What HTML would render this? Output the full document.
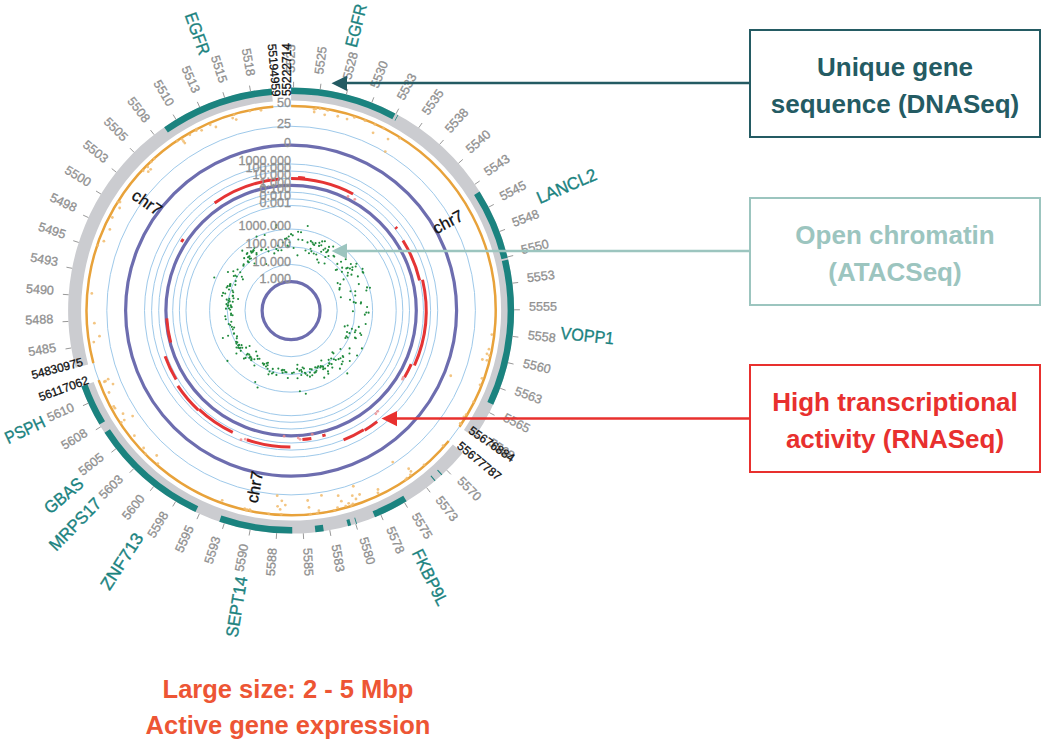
<!DOCTYPE html>
<html><head><meta charset="utf-8">
<style>
html,body{margin:0;padding:0;background:#fff;}
body{width:1041px;height:742px;overflow:hidden;position:relative;font-family:"Liberation Sans",sans-serif;}
svg{position:absolute;left:0;top:0;}
.tk{font-size:12.6px;fill:#909090;stroke:#909090;stroke-width:0.3px;}
.bl{font-size:11.9px;fill:#111;stroke:#111;stroke-width:0.3px;}
.gn{font-size:17.3px;fill:#1b837f;stroke:#1b837f;stroke-width:0.35px;}
.chr{font-size:16.5px;fill:#111;stroke:#111;stroke-width:0.3px;}
.sc{font-size:12.6px;fill:#909090;stroke:#909090;stroke-width:0.3px;}
.box{position:absolute;box-sizing:border-box;border:2px solid;display:flex;align-items:center;justify-content:center;text-align:center;font-weight:bold;font-size:26px;line-height:36.8px;padding-top:6px;}
.bottom{position:absolute;left:88px;width:400px;text-align:center;font-weight:bold;font-size:25.5px;line-height:36.8px;color:#ed5534;top:670.5px;}
</style></head><body>
<svg width="1041" height="742" viewBox="0 0 1041 742">
<circle cx="291.1" cy="310.6" r="184.3" fill="none" stroke="#9ec9ea" stroke-width="1"/>
<circle cx="291.1" cy="310.6" r="146.6" fill="none" stroke="#9ec9ea" stroke-width="1"/>
<circle cx="291.1" cy="310.6" r="139.5" fill="none" stroke="#9ec9ea" stroke-width="1"/>
<circle cx="291.1" cy="310.6" r="132.4" fill="none" stroke="#9ec9ea" stroke-width="1"/>
<circle cx="291.1" cy="310.6" r="118.4" fill="none" stroke="#9ec9ea" stroke-width="1"/>
<circle cx="291.1" cy="310.6" r="111.7" fill="none" stroke="#9ec9ea" stroke-width="1"/>
<circle cx="291.1" cy="310.6" r="105.1" fill="none" stroke="#9ec9ea" stroke-width="1"/>
<circle cx="291.1" cy="310.6" r="81.5" fill="none" stroke="#9ec9ea" stroke-width="1"/>
<circle cx="291.1" cy="310.6" r="63.8" fill="none" stroke="#9ec9ea" stroke-width="1"/>
<circle cx="291.1" cy="310.6" r="46.1" fill="none" stroke="#9ec9ea" stroke-width="1"/>
<circle cx="291.1" cy="310.6" r="204.65" fill="none" stroke="#9ec9ea" stroke-width="1"/>
<path d="M291.1 87.6A223 223 0 0 1 474.64 437.26L463.94 429.88A210 210 0 0 0 291.1 100.6Z" fill="#cbccd0"/>
<path d="M462.9 452.78A223 223 0 0 1 81.37 386.38L93.6 381.96A210 210 0 0 0 452.88 444.49Z" fill="#cbccd0"/>
<path d="M75.56 367.81A223 223 0 0 1 271.66 88.45L272.8 101.4A210 210 0 0 0 88.13 364.48Z" fill="#cbccd0"/>
<path d="M164.16 127.25A223 223 0 0 1 271.66 88.45L272.23 94.92A216.5 216.5 0 0 0 167.86 132.6Z" fill="#1b837f"/>
<path d="M291.1 87.6A223 223 0 0 1 395.36 113.48L392.33 119.22A216.5 216.5 0 0 0 291.1 94.1Z" fill="#1b837f"/>
<path d="M397.7 114.73A223 223 0 0 1 398.36 115.09L395.23 120.79A216.5 216.5 0 0 0 394.6 120.44Z" fill="#1b837f"/>
<path d="M479.59 191.43A223 223 0 0 1 507.76 257.78L501.44 259.32A216.5 216.5 0 0 0 474.09 194.9Z" fill="#1b837f"/>
<path d="M508.15 259.44A223 223 0 0 1 493.26 404.74L487.36 401.99A216.5 216.5 0 0 0 501.83 260.93Z" fill="#1b837f"/>
<path d="M442.34 474.48A223 223 0 0 1 441.55 475.2L437.17 470.4A216.5 216.5 0 0 0 437.93 469.7Z" fill="#1b837f"/>
<path d="M435.55 480.49A223 223 0 0 1 434.73 481.18L430.54 476.21A216.5 216.5 0 0 0 431.34 475.54Z" fill="#1b837f"/>
<path d="M406.65 501.33A223 223 0 0 1 375 517.22L372.55 511.19A216.5 216.5 0 0 0 403.28 495.77Z" fill="#1b837f"/>
<path d="M357 523.64A223 223 0 0 1 356.18 523.89L354.28 517.68A216.5 216.5 0 0 0 355.08 517.43Z" fill="#1b837f"/>
<path d="M351.16 525.36A223 223 0 0 1 348.07 526.2L346.41 519.92A216.5 216.5 0 0 0 349.41 519.1Z" fill="#1b837f"/>
<path d="M323.83 531.19A223 223 0 0 1 315.45 532.27L314.74 525.81A216.5 216.5 0 0 0 322.87 524.76Z" fill="#1b837f"/>
<path d="M292.27 533.6A223 223 0 0 1 219.24 521.7L221.33 515.55A216.5 216.5 0 0 0 292.23 527.1Z" fill="#1b837f"/>
<path d="M195.45 512.04A223 223 0 0 1 104.5 432.71L109.94 429.15A216.5 216.5 0 0 0 198.24 506.17Z" fill="#1b837f"/>
<path d="M99.45 424.62A223 223 0 0 1 81.37 386.38L87.48 384.17A216.5 216.5 0 0 0 105.04 421.3Z" fill="#1b837f"/>
<path d="M291.1 106A204.6 204.6 0 0 1 459.49 426.81" fill="none" stroke="#e8a23a" stroke-width="2.5"/>
<path d="M448.72 441.05A204.6 204.6 0 0 1 98.68 380.13" fill="none" stroke="#e8a23a" stroke-width="2.5"/>
<path d="M93.35 363.09A204.6 204.6 0 0 1 273.27 106.78" fill="none" stroke="#e8a23a" stroke-width="2.5"/>
<circle cx="473.57" cy="401.89" r="1.4" fill="#f1bb6c" fill-opacity="0.85"/>
<circle cx="443.04" cy="445.73" r="1.4" fill="#f1bb6c" fill-opacity="0.85"/>
<circle cx="337.75" cy="116.26" r="1.4" fill="#f1bb6c" fill-opacity="0.85"/>
<circle cx="365.08" cy="120.64" r="1.4" fill="#f1bb6c" fill-opacity="0.85"/>
<circle cx="143.65" cy="447.98" r="1.4" fill="#f1bb6c" fill-opacity="0.85"/>
<circle cx="260.99" cy="110.26" r="1.4" fill="#f1bb6c" fill-opacity="0.85"/>
<circle cx="486.94" cy="360.37" r="1.4" fill="#f1bb6c" fill-opacity="0.85"/>
<circle cx="156.7" cy="455.52" r="1.4" fill="#f1bb6c" fill-opacity="0.85"/>
<circle cx="196.44" cy="129.24" r="1.4" fill="#f1bb6c" fill-opacity="0.85"/>
<circle cx="388.03" cy="139.05" r="1.4" fill="#f1bb6c" fill-opacity="0.85"/>
<circle cx="147.72" cy="166.97" r="1.4" fill="#f1bb6c" fill-opacity="0.85"/>
<circle cx="277.2" cy="495.63" r="1.4" fill="#f1bb6c" fill-opacity="0.85"/>
<circle cx="150.69" cy="169.35" r="1.4" fill="#f1bb6c" fill-opacity="0.85"/>
<circle cx="373.07" cy="132.84" r="1.4" fill="#f1bb6c" fill-opacity="0.85"/>
<circle cx="321.44" cy="495.41" r="1.4" fill="#f1bb6c" fill-opacity="0.85"/>
<circle cx="486.93" cy="353.85" r="1.4" fill="#f1bb6c" fill-opacity="0.85"/>
<circle cx="319.92" cy="108.66" r="1.4" fill="#f1bb6c" fill-opacity="0.85"/>
<circle cx="189.83" cy="134.82" r="1.4" fill="#f1bb6c" fill-opacity="0.85"/>
<circle cx="352.3" cy="495.72" r="1.4" fill="#f1bb6c" fill-opacity="0.85"/>
<circle cx="109.02" cy="392.5" r="1.4" fill="#f1bb6c" fill-opacity="0.85"/>
<circle cx="310.39" cy="514.2" r="1.4" fill="#f1bb6c" fill-opacity="0.85"/>
<circle cx="247.12" cy="509.77" r="1.4" fill="#f1bb6c" fill-opacity="0.85"/>
<circle cx="232.68" cy="118.12" r="1.4" fill="#f1bb6c" fill-opacity="0.85"/>
<circle cx="345.71" cy="506.1" r="1.4" fill="#f1bb6c" fill-opacity="0.85"/>
<circle cx="410.96" cy="471.43" r="1.4" fill="#f1bb6c" fill-opacity="0.85"/>
<circle cx="374.92" cy="124.47" r="1.4" fill="#f1bb6c" fill-opacity="0.85"/>
<circle cx="244.7" cy="508.68" r="1.4" fill="#f1bb6c" fill-opacity="0.85"/>
<circle cx="157.85" cy="463.54" r="1.4" fill="#f1bb6c" fill-opacity="0.85"/>
<circle cx="236.22" cy="119.59" r="1.4" fill="#f1bb6c" fill-opacity="0.85"/>
<circle cx="334.45" cy="510.35" r="1.4" fill="#f1bb6c" fill-opacity="0.85"/>
<circle cx="104.39" cy="381.75" r="1.4" fill="#f1bb6c" fill-opacity="0.85"/>
<circle cx="324.7" cy="114.78" r="1.4" fill="#f1bb6c" fill-opacity="0.85"/>
<circle cx="249.77" cy="509.59" r="1.4" fill="#f1bb6c" fill-opacity="0.85"/>
<circle cx="94.38" cy="323.13" r="1.4" fill="#f1bb6c" fill-opacity="0.85"/>
<circle cx="327.97" cy="110.36" r="1.4" fill="#f1bb6c" fill-opacity="0.85"/>
<circle cx="355.97" cy="499.02" r="1.4" fill="#f1bb6c" fill-opacity="0.85"/>
<circle cx="234.17" cy="114.63" r="1.4" fill="#f1bb6c" fill-opacity="0.85"/>
<circle cx="463.89" cy="416.84" r="1.4" fill="#f1bb6c" fill-opacity="0.85"/>
<circle cx="317.37" cy="513.18" r="1.4" fill="#f1bb6c" fill-opacity="0.85"/>
<circle cx="182.09" cy="139.36" r="1.4" fill="#f1bb6c" fill-opacity="0.85"/>
<circle cx="318.89" cy="510.65" r="1.4" fill="#f1bb6c" fill-opacity="0.85"/>
<circle cx="337.54" cy="507.62" r="1.4" fill="#f1bb6c" fill-opacity="0.85"/>
<circle cx="93.79" cy="342.11" r="1.4" fill="#f1bb6c" fill-opacity="0.85"/>
<circle cx="103.87" cy="241.19" r="1.4" fill="#f1bb6c" fill-opacity="0.85"/>
<circle cx="121.31" cy="422.48" r="1.4" fill="#f1bb6c" fill-opacity="0.85"/>
<circle cx="326.79" cy="109.78" r="1.4" fill="#f1bb6c" fill-opacity="0.85"/>
<circle cx="91.8" cy="293.43" r="1.4" fill="#f1bb6c" fill-opacity="0.85"/>
<circle cx="184.84" cy="143.12" r="1.4" fill="#f1bb6c" fill-opacity="0.85"/>
<circle cx="123.02" cy="413.64" r="1.4" fill="#f1bb6c" fill-opacity="0.85"/>
<circle cx="250.56" cy="510.64" r="1.4" fill="#f1bb6c" fill-opacity="0.85"/>
<circle cx="148.3" cy="171.68" r="1.4" fill="#f1bb6c" fill-opacity="0.85"/>
<circle cx="222.19" cy="500.35" r="1.4" fill="#f1bb6c" fill-opacity="0.85"/>
<circle cx="154.27" cy="158.84" r="1.4" fill="#f1bb6c" fill-opacity="0.85"/>
<circle cx="281.22" cy="514.28" r="1.4" fill="#f1bb6c" fill-opacity="0.85"/>
<circle cx="359.59" cy="494.48" r="1.4" fill="#f1bb6c" fill-opacity="0.85"/>
<circle cx="351.3" cy="505.62" r="1.4" fill="#f1bb6c" fill-opacity="0.85"/>
<circle cx="281.83" cy="500.82" r="1.4" fill="#f1bb6c" fill-opacity="0.85"/>
<circle cx="196.24" cy="130.66" r="1.4" fill="#f1bb6c" fill-opacity="0.85"/>
<circle cx="120" cy="202.01" r="1.4" fill="#f1bb6c" fill-opacity="0.85"/>
<circle cx="113.73" cy="406.44" r="1.4" fill="#f1bb6c" fill-opacity="0.85"/>
<circle cx="114.97" cy="408.19" r="1.4" fill="#f1bb6c" fill-opacity="0.85"/>
<circle cx="249.84" cy="111.09" r="1.4" fill="#f1bb6c" fill-opacity="0.85"/>
<circle cx="408.66" cy="468.74" r="1.4" fill="#f1bb6c" fill-opacity="0.85"/>
<circle cx="406.89" cy="478.26" r="1.4" fill="#f1bb6c" fill-opacity="0.85"/>
<circle cx="315.93" cy="108.77" r="1.4" fill="#f1bb6c" fill-opacity="0.85"/>
<circle cx="268.75" cy="513.8" r="1.4" fill="#f1bb6c" fill-opacity="0.85"/>
<circle cx="177.32" cy="141.12" r="1.4" fill="#f1bb6c" fill-opacity="0.85"/>
<circle cx="392.72" cy="462.07" r="1.4" fill="#f1bb6c" fill-opacity="0.85"/>
<circle cx="399.61" cy="138.32" r="1.4" fill="#f1bb6c" fill-opacity="0.85"/>
<circle cx="491.84" cy="334.58" r="1.4" fill="#f1bb6c" fill-opacity="0.85"/>
<circle cx="97.72" cy="245.57" r="1.4" fill="#f1bb6c" fill-opacity="0.85"/>
<circle cx="348.69" cy="503.28" r="1.4" fill="#f1bb6c" fill-opacity="0.85"/>
<circle cx="201.63" cy="130.35" r="1.4" fill="#f1bb6c" fill-opacity="0.85"/>
<circle cx="215.9" cy="127.02" r="1.4" fill="#f1bb6c" fill-opacity="0.85"/>
<circle cx="354.39" cy="117.4" r="1.4" fill="#f1bb6c" fill-opacity="0.85"/>
<circle cx="314.17" cy="109.29" r="1.4" fill="#f1bb6c" fill-opacity="0.85"/>
<circle cx="314.19" cy="112.1" r="1.4" fill="#f1bb6c" fill-opacity="0.85"/>
<circle cx="210.21" cy="124.83" r="1.4" fill="#f1bb6c" fill-opacity="0.85"/>
<circle cx="132.62" cy="416.12" r="1.4" fill="#f1bb6c" fill-opacity="0.85"/>
<circle cx="113" cy="384.05" r="1.4" fill="#f1bb6c" fill-opacity="0.85"/>
<circle cx="99.51" cy="336.22" r="1.4" fill="#f1bb6c" fill-opacity="0.85"/>
<circle cx="151.23" cy="161.92" r="1.4" fill="#f1bb6c" fill-opacity="0.85"/>
<circle cx="143.18" cy="170.75" r="1.4" fill="#f1bb6c" fill-opacity="0.85"/>
<circle cx="347.04" cy="119.11" r="1.4" fill="#f1bb6c" fill-opacity="0.85"/>
<circle cx="353.32" cy="486.27" r="1.4" fill="#f1bb6c" fill-opacity="0.85"/>
<circle cx="480.06" cy="384.79" r="1.4" fill="#f1bb6c" fill-opacity="0.85"/>
<circle cx="466.08" cy="414.58" r="1.4" fill="#f1bb6c" fill-opacity="0.85"/>
<circle cx="285.31" cy="505.06" r="1.4" fill="#f1bb6c" fill-opacity="0.85"/>
<circle cx="109.85" cy="229.39" r="1.4" fill="#f1bb6c" fill-opacity="0.85"/>
<circle cx="481.97" cy="378.3" r="1.4" fill="#f1bb6c" fill-opacity="0.85"/>
<circle cx="124.28" cy="420.12" r="1.4" fill="#f1bb6c" fill-opacity="0.85"/>
<circle cx="377.91" cy="492.84" r="1.4" fill="#f1bb6c" fill-opacity="0.85"/>
<circle cx="183.58" cy="141.44" r="1.4" fill="#f1bb6c" fill-opacity="0.85"/>
<circle cx="112.34" cy="217.51" r="1.4" fill="#f1bb6c" fill-opacity="0.85"/>
<circle cx="385.27" cy="151.58" r="1.4" fill="#f1bb6c" fill-opacity="0.85"/>
<circle cx="119.65" cy="208.01" r="1.4" fill="#f1bb6c" fill-opacity="0.85"/>
<circle cx="145.46" cy="454.01" r="1.4" fill="#f1bb6c" fill-opacity="0.85"/>
<circle cx="246.22" cy="510.2" r="1.4" fill="#f1bb6c" fill-opacity="0.85"/>
<circle cx="338.2" cy="495.68" r="1.4" fill="#f1bb6c" fill-opacity="0.85"/>
<circle cx="134.4" cy="435.72" r="1.4" fill="#f1bb6c" fill-opacity="0.85"/>
<circle cx="108.15" cy="379.22" r="1.4" fill="#f1bb6c" fill-opacity="0.85"/>
<circle cx="105.44" cy="381.18" r="1.4" fill="#f1bb6c" fill-opacity="0.85"/>
<circle cx="489.29" cy="355.61" r="1.4" fill="#f1bb6c" fill-opacity="0.85"/>
<circle cx="450.75" cy="375.76" r="1.4" fill="#f1bb6c" fill-opacity="0.85"/>
<circle cx="341.35" cy="501.19" r="1.4" fill="#f1bb6c" fill-opacity="0.85"/>
<circle cx="424.05" cy="464.97" r="1.4" fill="#f1bb6c" fill-opacity="0.85"/>
<circle cx="383.5" cy="128.15" r="1.4" fill="#f1bb6c" fill-opacity="0.85"/>
<circle cx="280.16" cy="509.45" r="1.4" fill="#f1bb6c" fill-opacity="0.85"/>
<circle cx="307.68" cy="500.52" r="1.4" fill="#f1bb6c" fill-opacity="0.85"/>
<circle cx="405.48" cy="479.86" r="1.4" fill="#f1bb6c" fill-opacity="0.85"/>
<circle cx="460.88" cy="424.37" r="1.4" fill="#f1bb6c" fill-opacity="0.85"/>
<circle cx="117.91" cy="202.04" r="1.4" fill="#f1bb6c" fill-opacity="0.85"/>
<circle cx="482.38" cy="359.5" r="1.4" fill="#f1bb6c" fill-opacity="0.85"/>
<circle cx="377.98" cy="489.51" r="1.4" fill="#f1bb6c" fill-opacity="0.85"/>
<circle cx="488.99" cy="349.17" r="1.4" fill="#f1bb6c" fill-opacity="0.85"/>
<circle cx="277.6" cy="506.28" r="1.4" fill="#f1bb6c" fill-opacity="0.85"/>
<circle cx="410.38" cy="474.87" r="1.4" fill="#f1bb6c" fill-opacity="0.85"/>
<circle cx="352.79" cy="504.02" r="1.4" fill="#f1bb6c" fill-opacity="0.85"/>
<circle cx="308.99" cy="507.41" r="1.4" fill="#f1bb6c" fill-opacity="0.85"/>
<circle cx="460.18" cy="423.44" r="1.4" fill="#f1bb6c" fill-opacity="0.85"/>
<circle cx="291.1" cy="310.6" r="165.5" fill="none" stroke="#6d6daf" stroke-width="3.2"/>
<circle cx="291.1" cy="310.6" r="125.2" fill="none" stroke="#6d6daf" stroke-width="3.2"/>
<circle cx="291.1" cy="310.6" r="29.0" fill="none" stroke="#6d6daf" stroke-width="3.2"/>
<path d="M214.63 203A132 132 0 0 1 279.6 179.1" fill="none" stroke="#e53434" stroke-width="3"/>
<path d="M291.1 178.6A132 132 0 0 1 353.07 194.05" fill="none" stroke="#e53434" stroke-width="3"/>
<path d="M298.07 177.58A133.2 133.2 0 0 1 305.02 178.13" fill="none" stroke="#e53434" stroke-width="3"/>
<path d="M181.36 242.03A129.4 129.4 0 0 1 183.32 238.99" fill="none" stroke="#e53434" stroke-width="3"/>
<path d="M395.52 226.94A133.8 133.8 0 0 1 396.97 228.78" fill="none" stroke="#e53434" stroke-width="3"/>
<path d="M402.92 240.46A132 132 0 0 1 419.61 280.46" fill="none" stroke="#e53434" stroke-width="3"/>
<path d="M422.53 279.77A135 135 0 0 1 414.43 365.51" fill="none" stroke="#e53434" stroke-width="3"/>
<path d="M411.23 364.09A131.5 131.5 0 0 1 404.52 377.14" fill="none" stroke="#e53434" stroke-width="3"/>
<path d="M377.21 421.62A140.5 140.5 0 0 1 364.72 430.27" fill="none" stroke="#e53434" stroke-width="3"/>
<path d="M363.78 429.67A139.5 139.5 0 0 1 343.58 439.85" fill="none" stroke="#e53434" stroke-width="3"/>
<path d="M325.57 434.91A129 129 0 0 1 322.31 435.77" fill="none" stroke="#e53434" stroke-width="3"/>
<path d="M311.36 438.51A129.5 129.5 0 0 1 302.39 439.61" fill="none" stroke="#e53434" stroke-width="3"/>
<path d="M290.39 447.1A136.5 136.5 0 0 1 246.89 439.74" fill="none" stroke="#e53434" stroke-width="3"/>
<path d="M232.77 432.35A135 135 0 0 1 199.03 409.33" fill="none" stroke="#e53434" stroke-width="3"/>
<path d="M198.35 410.06A136 136 0 0 1 177.82 385.86" fill="none" stroke="#e53434" stroke-width="3"/>
<path d="M176.12 379.41A134 134 0 0 1 165.1 356.21" fill="none" stroke="#e53434" stroke-width="3"/>
<path d="M170.69 342.64A124.6 124.6 0 0 1 166.75 318.42" fill="none" stroke="#e53434" stroke-width="3"/>
<circle cx="377.7" cy="411.28" r="1.4" fill="#f08a8a" fill-opacity="0.8"/>
<circle cx="375.84" cy="413.76" r="1.4" fill="#f08a8a" fill-opacity="0.8"/>
<circle cx="403.19" cy="377.42" r="1.4" fill="#f08a8a" fill-opacity="0.8"/>
<circle cx="402.51" cy="379.14" r="1.4" fill="#f08a8a" fill-opacity="0.8"/>
<circle cx="245.31" cy="439.19" r="1.4" fill="#f08a8a" fill-opacity="0.8"/>
<circle cx="241.01" cy="439.73" r="1.4" fill="#f08a8a" fill-opacity="0.8"/>
<circle cx="284.08" cy="436.2" r="1.4" fill="#f08a8a" fill-opacity="0.8"/>
<circle cx="300.1" cy="439.29" r="1.4" fill="#f08a8a" fill-opacity="0.8"/>
<circle cx="298.22" cy="437.9" r="1.4" fill="#f08a8a" fill-opacity="0.8"/>
<circle cx="312.25" cy="434.31" r="1.4" fill="#f08a8a" fill-opacity="0.8"/>
<circle cx="347.99" cy="196.5" r="1.4" fill="#f08a8a" fill-opacity="0.8"/>
<circle cx="354.81" cy="199.35" r="1.4" fill="#f08a8a" fill-opacity="0.8"/>
<circle cx="328" cy="365.8" r="1.05" fill="#1f8a3c"/>
<circle cx="345.46" cy="252.53" r="1.05" fill="#1f8a3c"/>
<circle cx="317.17" cy="259.58" r="1.05" fill="#1f8a3c"/>
<circle cx="309.94" cy="372.51" r="1.05" fill="#1f8a3c"/>
<circle cx="231.57" cy="307.14" r="1.05" fill="#1f8a3c"/>
<circle cx="357.87" cy="276.42" r="1.05" fill="#1f8a3c"/>
<circle cx="346.36" cy="336.3" r="1.05" fill="#1f8a3c"/>
<circle cx="301.04" cy="232.26" r="1.05" fill="#1f8a3c"/>
<circle cx="335.8" cy="359.94" r="1.05" fill="#1f8a3c"/>
<circle cx="230.15" cy="309.79" r="1.05" fill="#1f8a3c"/>
<circle cx="264.22" cy="363.95" r="1.05" fill="#1f8a3c"/>
<circle cx="225.22" cy="293.55" r="1.05" fill="#1f8a3c"/>
<circle cx="333.2" cy="246.59" r="1.05" fill="#1f8a3c"/>
<circle cx="317.15" cy="367.66" r="1.05" fill="#1f8a3c"/>
<circle cx="230.01" cy="284.46" r="1.05" fill="#1f8a3c"/>
<circle cx="228.35" cy="305.19" r="1.05" fill="#1f8a3c"/>
<circle cx="277.99" cy="245.67" r="1.05" fill="#1f8a3c"/>
<circle cx="261.55" cy="249.65" r="1.05" fill="#1f8a3c"/>
<circle cx="302.64" cy="367.48" r="1.05" fill="#1f8a3c"/>
<circle cx="352.44" cy="267.24" r="1.05" fill="#1f8a3c"/>
<circle cx="339.26" cy="251.55" r="1.05" fill="#1f8a3c"/>
<circle cx="254.52" cy="263.51" r="1.05" fill="#1f8a3c"/>
<circle cx="226.69" cy="299.62" r="1.05" fill="#1f8a3c"/>
<circle cx="307.52" cy="242.4" r="1.05" fill="#1f8a3c"/>
<circle cx="276.31" cy="249.1" r="1.05" fill="#1f8a3c"/>
<circle cx="230.84" cy="305.34" r="1.05" fill="#1f8a3c"/>
<circle cx="360.23" cy="333.23" r="1.05" fill="#1f8a3c"/>
<circle cx="223.09" cy="292.92" r="1.05" fill="#1f8a3c"/>
<circle cx="289.54" cy="242.33" r="1.05" fill="#1f8a3c"/>
<circle cx="367.09" cy="306.95" r="1.05" fill="#1f8a3c"/>
<circle cx="271.99" cy="373.43" r="1.05" fill="#1f8a3c"/>
<circle cx="315.53" cy="243.15" r="1.05" fill="#1f8a3c"/>
<circle cx="247.96" cy="261.76" r="1.05" fill="#1f8a3c"/>
<circle cx="320.42" cy="367.54" r="1.05" fill="#1f8a3c"/>
<circle cx="293.84" cy="372.45" r="1.05" fill="#1f8a3c"/>
<circle cx="328.64" cy="359.86" r="1.05" fill="#1f8a3c"/>
<circle cx="233.33" cy="271.26" r="1.05" fill="#1f8a3c"/>
<circle cx="226.5" cy="304.14" r="1.05" fill="#1f8a3c"/>
<circle cx="304.94" cy="372.74" r="1.05" fill="#1f8a3c"/>
<circle cx="243.96" cy="358.58" r="1.05" fill="#1f8a3c"/>
<circle cx="247.37" cy="253.12" r="1.05" fill="#1f8a3c"/>
<circle cx="266.22" cy="264.02" r="1.05" fill="#1f8a3c"/>
<circle cx="257.79" cy="358.87" r="1.05" fill="#1f8a3c"/>
<circle cx="312.28" cy="375.29" r="1.05" fill="#1f8a3c"/>
<circle cx="355.87" cy="338.24" r="1.05" fill="#1f8a3c"/>
<circle cx="358.83" cy="284.12" r="1.05" fill="#1f8a3c"/>
<circle cx="281.72" cy="370.34" r="1.05" fill="#1f8a3c"/>
<circle cx="235.3" cy="275.62" r="1.05" fill="#1f8a3c"/>
<circle cx="314.57" cy="372.63" r="1.05" fill="#1f8a3c"/>
<circle cx="323.2" cy="369.15" r="1.05" fill="#1f8a3c"/>
<circle cx="267.61" cy="368.71" r="1.05" fill="#1f8a3c"/>
<circle cx="349.5" cy="333.17" r="1.05" fill="#1f8a3c"/>
<circle cx="327.47" cy="251.47" r="1.05" fill="#1f8a3c"/>
<circle cx="311.71" cy="369.39" r="1.05" fill="#1f8a3c"/>
<circle cx="232.59" cy="315.27" r="1.05" fill="#1f8a3c"/>
<circle cx="246.74" cy="354.74" r="1.05" fill="#1f8a3c"/>
<circle cx="332.41" cy="352.2" r="1.05" fill="#1f8a3c"/>
<circle cx="319.34" cy="242.84" r="1.05" fill="#1f8a3c"/>
<circle cx="349.79" cy="361.03" r="1.05" fill="#1f8a3c"/>
<circle cx="228.1" cy="335.74" r="1.05" fill="#1f8a3c"/>
<circle cx="355.56" cy="330.39" r="1.05" fill="#1f8a3c"/>
<circle cx="264.68" cy="235" r="1.05" fill="#1f8a3c"/>
<circle cx="334.24" cy="256.59" r="1.05" fill="#1f8a3c"/>
<circle cx="232.96" cy="295.75" r="1.05" fill="#1f8a3c"/>
<circle cx="214.28" cy="277.47" r="1.05" fill="#1f8a3c"/>
<circle cx="361.23" cy="335.01" r="1.05" fill="#1f8a3c"/>
<circle cx="349.93" cy="268.6" r="1.05" fill="#1f8a3c"/>
<circle cx="222.08" cy="295.7" r="1.05" fill="#1f8a3c"/>
<circle cx="286.48" cy="372.29" r="1.05" fill="#1f8a3c"/>
<circle cx="240.29" cy="347.74" r="1.05" fill="#1f8a3c"/>
<circle cx="273.28" cy="372.49" r="1.05" fill="#1f8a3c"/>
<circle cx="324.88" cy="241.28" r="1.05" fill="#1f8a3c"/>
<circle cx="340.84" cy="297.27" r="1.05" fill="#1f8a3c"/>
<circle cx="363.27" cy="272.79" r="1.05" fill="#1f8a3c"/>
<circle cx="307.32" cy="375.35" r="1.05" fill="#1f8a3c"/>
<circle cx="229.82" cy="301.34" r="1.05" fill="#1f8a3c"/>
<circle cx="229.3" cy="298.91" r="1.05" fill="#1f8a3c"/>
<circle cx="366.3" cy="312.52" r="1.05" fill="#1f8a3c"/>
<circle cx="315.74" cy="372.16" r="1.05" fill="#1f8a3c"/>
<circle cx="252.37" cy="251.58" r="1.05" fill="#1f8a3c"/>
<circle cx="319.01" cy="245.9" r="1.05" fill="#1f8a3c"/>
<circle cx="239.49" cy="348.27" r="1.05" fill="#1f8a3c"/>
<circle cx="305.67" cy="373.75" r="1.05" fill="#1f8a3c"/>
<circle cx="361.03" cy="302.26" r="1.05" fill="#1f8a3c"/>
<circle cx="342.67" cy="361.44" r="1.05" fill="#1f8a3c"/>
<circle cx="235.72" cy="281.09" r="1.05" fill="#1f8a3c"/>
<circle cx="321.15" cy="251.74" r="1.05" fill="#1f8a3c"/>
<circle cx="228.5" cy="300.69" r="1.05" fill="#1f8a3c"/>
<circle cx="293.6" cy="247.95" r="1.05" fill="#1f8a3c"/>
<circle cx="305.49" cy="250.57" r="1.05" fill="#1f8a3c"/>
<circle cx="310.88" cy="241.16" r="1.05" fill="#1f8a3c"/>
<circle cx="256.51" cy="252.98" r="1.05" fill="#1f8a3c"/>
<circle cx="235.36" cy="284.87" r="1.05" fill="#1f8a3c"/>
<circle cx="323.48" cy="249.84" r="1.05" fill="#1f8a3c"/>
<circle cx="297.16" cy="368.89" r="1.05" fill="#1f8a3c"/>
<circle cx="355.7" cy="266.43" r="1.05" fill="#1f8a3c"/>
<circle cx="241.55" cy="345.17" r="1.05" fill="#1f8a3c"/>
<circle cx="236.07" cy="341.85" r="1.05" fill="#1f8a3c"/>
<circle cx="313.27" cy="244.31" r="1.05" fill="#1f8a3c"/>
<circle cx="297.45" cy="255.33" r="1.05" fill="#1f8a3c"/>
<circle cx="232.5" cy="290.65" r="1.05" fill="#1f8a3c"/>
<circle cx="268.5" cy="251.36" r="1.05" fill="#1f8a3c"/>
<circle cx="352.24" cy="269.92" r="1.05" fill="#1f8a3c"/>
<circle cx="342.72" cy="355.95" r="1.05" fill="#1f8a3c"/>
<circle cx="345.72" cy="259.3" r="1.05" fill="#1f8a3c"/>
<circle cx="331.68" cy="364.09" r="1.05" fill="#1f8a3c"/>
<circle cx="261.39" cy="250.21" r="1.05" fill="#1f8a3c"/>
<circle cx="347.55" cy="275.67" r="1.05" fill="#1f8a3c"/>
<circle cx="316.27" cy="254.47" r="1.05" fill="#1f8a3c"/>
<circle cx="226.7" cy="287.55" r="1.05" fill="#1f8a3c"/>
<circle cx="227.95" cy="272.01" r="1.05" fill="#1f8a3c"/>
<circle cx="251.29" cy="360.2" r="1.05" fill="#1f8a3c"/>
<circle cx="326.25" cy="252.25" r="1.05" fill="#1f8a3c"/>
<circle cx="246.11" cy="347.66" r="1.05" fill="#1f8a3c"/>
<circle cx="249.2" cy="354.63" r="1.05" fill="#1f8a3c"/>
<circle cx="257.57" cy="387.52" r="1.05" fill="#1f8a3c"/>
<circle cx="347.92" cy="272.75" r="1.05" fill="#1f8a3c"/>
<circle cx="230.44" cy="284.06" r="1.05" fill="#1f8a3c"/>
<circle cx="244.17" cy="258.13" r="1.05" fill="#1f8a3c"/>
<circle cx="345.41" cy="337.93" r="1.05" fill="#1f8a3c"/>
<circle cx="309.96" cy="376.65" r="1.05" fill="#1f8a3c"/>
<circle cx="347.06" cy="332.03" r="1.05" fill="#1f8a3c"/>
<circle cx="331.19" cy="358.57" r="1.05" fill="#1f8a3c"/>
<circle cx="292.76" cy="235.33" r="1.05" fill="#1f8a3c"/>
<circle cx="303.95" cy="368.57" r="1.05" fill="#1f8a3c"/>
<circle cx="233.8" cy="275.96" r="1.05" fill="#1f8a3c"/>
<circle cx="332.31" cy="367.58" r="1.05" fill="#1f8a3c"/>
<circle cx="229.01" cy="289.44" r="1.05" fill="#1f8a3c"/>
<circle cx="238.27" cy="345.5" r="1.05" fill="#1f8a3c"/>
<circle cx="354.98" cy="337.64" r="1.05" fill="#1f8a3c"/>
<circle cx="325.24" cy="248.47" r="1.05" fill="#1f8a3c"/>
<circle cx="238.09" cy="299.02" r="1.05" fill="#1f8a3c"/>
<circle cx="250.6" cy="357.05" r="1.05" fill="#1f8a3c"/>
<circle cx="248.87" cy="262.27" r="1.05" fill="#1f8a3c"/>
<circle cx="229.88" cy="285.92" r="1.05" fill="#1f8a3c"/>
<circle cx="350.04" cy="299.79" r="1.05" fill="#1f8a3c"/>
<circle cx="251.42" cy="358.29" r="1.05" fill="#1f8a3c"/>
<circle cx="250.88" cy="251.36" r="1.05" fill="#1f8a3c"/>
<circle cx="368.61" cy="312.63" r="1.05" fill="#1f8a3c"/>
<circle cx="250.24" cy="356.44" r="1.05" fill="#1f8a3c"/>
<circle cx="340.47" cy="358.31" r="1.05" fill="#1f8a3c"/>
<circle cx="365.67" cy="323.95" r="1.05" fill="#1f8a3c"/>
<circle cx="338.56" cy="359.17" r="1.05" fill="#1f8a3c"/>
<circle cx="310.61" cy="248.68" r="1.05" fill="#1f8a3c"/>
<circle cx="278.13" cy="250.55" r="1.05" fill="#1f8a3c"/>
<circle cx="249.49" cy="256.18" r="1.05" fill="#1f8a3c"/>
<circle cx="276.43" cy="374.92" r="1.05" fill="#1f8a3c"/>
<circle cx="333.46" cy="353.36" r="1.05" fill="#1f8a3c"/>
<circle cx="346.33" cy="268.42" r="1.05" fill="#1f8a3c"/>
<circle cx="249.35" cy="357.73" r="1.05" fill="#1f8a3c"/>
<circle cx="351.93" cy="328.85" r="1.05" fill="#1f8a3c"/>
<circle cx="243.39" cy="265.63" r="1.05" fill="#1f8a3c"/>
<circle cx="251.01" cy="258.43" r="1.05" fill="#1f8a3c"/>
<circle cx="347.65" cy="325.49" r="1.05" fill="#1f8a3c"/>
<circle cx="323.12" cy="366.89" r="1.05" fill="#1f8a3c"/>
<circle cx="256.12" cy="351.54" r="1.05" fill="#1f8a3c"/>
<circle cx="265.99" cy="366.57" r="1.05" fill="#1f8a3c"/>
<circle cx="327.98" cy="371.41" r="1.05" fill="#1f8a3c"/>
<circle cx="336.98" cy="269.49" r="1.05" fill="#1f8a3c"/>
<circle cx="298.11" cy="231.75" r="1.05" fill="#1f8a3c"/>
<circle cx="231.81" cy="326.83" r="1.05" fill="#1f8a3c"/>
<circle cx="237.35" cy="342.18" r="1.05" fill="#1f8a3c"/>
<circle cx="230.28" cy="285.82" r="1.05" fill="#1f8a3c"/>
<circle cx="249.73" cy="258.85" r="1.05" fill="#1f8a3c"/>
<circle cx="262.83" cy="363.21" r="1.05" fill="#1f8a3c"/>
<circle cx="337.68" cy="283.09" r="1.05" fill="#1f8a3c"/>
<circle cx="302.38" cy="240" r="1.05" fill="#1f8a3c"/>
<circle cx="336.99" cy="251.37" r="1.05" fill="#1f8a3c"/>
<circle cx="238.7" cy="345.35" r="1.05" fill="#1f8a3c"/>
<circle cx="240.76" cy="350.83" r="1.05" fill="#1f8a3c"/>
<circle cx="328.31" cy="373.73" r="1.05" fill="#1f8a3c"/>
<circle cx="288.71" cy="246.47" r="1.05" fill="#1f8a3c"/>
<circle cx="299.49" cy="370.67" r="1.05" fill="#1f8a3c"/>
<circle cx="256.57" cy="254.45" r="1.05" fill="#1f8a3c"/>
<circle cx="236.51" cy="347.43" r="1.05" fill="#1f8a3c"/>
<circle cx="236.43" cy="353.55" r="1.05" fill="#1f8a3c"/>
<circle cx="242.3" cy="250.64" r="1.05" fill="#1f8a3c"/>
<circle cx="311.39" cy="251.37" r="1.05" fill="#1f8a3c"/>
<circle cx="237.04" cy="336.36" r="1.05" fill="#1f8a3c"/>
<circle cx="344.71" cy="326.4" r="1.05" fill="#1f8a3c"/>
<circle cx="246.77" cy="254.06" r="1.05" fill="#1f8a3c"/>
<circle cx="251.57" cy="252.66" r="1.05" fill="#1f8a3c"/>
<circle cx="367.03" cy="287.39" r="1.05" fill="#1f8a3c"/>
<circle cx="339.92" cy="368.65" r="1.05" fill="#1f8a3c"/>
<circle cx="341.74" cy="364.16" r="1.05" fill="#1f8a3c"/>
<circle cx="242.88" cy="279.35" r="1.05" fill="#1f8a3c"/>
<circle cx="305.81" cy="393.8" r="1.05" fill="#1f8a3c"/>
<circle cx="360.81" cy="303.49" r="1.05" fill="#1f8a3c"/>
<circle cx="232.7" cy="295.92" r="1.05" fill="#1f8a3c"/>
<circle cx="340.26" cy="284.19" r="1.05" fill="#1f8a3c"/>
<circle cx="245.56" cy="357.91" r="1.05" fill="#1f8a3c"/>
<circle cx="307.73" cy="225.95" r="1.05" fill="#1f8a3c"/>
<circle cx="227.46" cy="360.9" r="1.05" fill="#1f8a3c"/>
<circle cx="227.68" cy="305.9" r="1.05" fill="#1f8a3c"/>
<circle cx="274.31" cy="253.38" r="1.05" fill="#1f8a3c"/>
<circle cx="228.96" cy="308.35" r="1.05" fill="#1f8a3c"/>
<circle cx="347.29" cy="373.41" r="1.05" fill="#1f8a3c"/>
<circle cx="253.62" cy="250.62" r="1.05" fill="#1f8a3c"/>
<circle cx="328.11" cy="250.17" r="1.05" fill="#1f8a3c"/>
<circle cx="335.81" cy="270" r="1.05" fill="#1f8a3c"/>
<circle cx="242.29" cy="347.82" r="1.05" fill="#1f8a3c"/>
<circle cx="349.46" cy="353.51" r="1.05" fill="#1f8a3c"/>
<circle cx="312.44" cy="242.61" r="1.05" fill="#1f8a3c"/>
<circle cx="257.32" cy="355.88" r="1.05" fill="#1f8a3c"/>
<circle cx="358.79" cy="326.92" r="1.05" fill="#1f8a3c"/>
<circle cx="324.56" cy="263.5" r="1.05" fill="#1f8a3c"/>
<circle cx="308.96" cy="253.32" r="1.05" fill="#1f8a3c"/>
<circle cx="263.73" cy="364.71" r="1.05" fill="#1f8a3c"/>
<circle cx="315.23" cy="367.39" r="1.05" fill="#1f8a3c"/>
<circle cx="314.22" cy="245.05" r="1.05" fill="#1f8a3c"/>
<circle cx="328.53" cy="256.04" r="1.05" fill="#1f8a3c"/>
<circle cx="259.46" cy="358.74" r="1.05" fill="#1f8a3c"/>
<circle cx="285.25" cy="371.94" r="1.05" fill="#1f8a3c"/>
<circle cx="266.04" cy="249.24" r="1.05" fill="#1f8a3c"/>
<circle cx="362.53" cy="268.84" r="1.05" fill="#1f8a3c"/>
<circle cx="287.47" cy="245.67" r="1.05" fill="#1f8a3c"/>
<circle cx="333.46" cy="255.68" r="1.05" fill="#1f8a3c"/>
<circle cx="248" cy="257.25" r="1.05" fill="#1f8a3c"/>
<circle cx="320.68" cy="366.15" r="1.05" fill="#1f8a3c"/>
<circle cx="318.2" cy="366.41" r="1.05" fill="#1f8a3c"/>
<circle cx="362.67" cy="271.9" r="1.05" fill="#1f8a3c"/>
<circle cx="341.05" cy="261.82" r="1.05" fill="#1f8a3c"/>
<circle cx="233.86" cy="333.58" r="1.05" fill="#1f8a3c"/>
<circle cx="282.57" cy="372.67" r="1.05" fill="#1f8a3c"/>
<circle cx="309.97" cy="369.05" r="1.05" fill="#1f8a3c"/>
<circle cx="234.1" cy="333.56" r="1.05" fill="#1f8a3c"/>
<circle cx="355.78" cy="302.85" r="1.05" fill="#1f8a3c"/>
<circle cx="287.83" cy="378.06" r="1.05" fill="#1f8a3c"/>
<circle cx="225.98" cy="308.66" r="1.05" fill="#1f8a3c"/>
<circle cx="281.46" cy="250.28" r="1.05" fill="#1f8a3c"/>
<circle cx="254.34" cy="359.31" r="1.05" fill="#1f8a3c"/>
<circle cx="364.85" cy="314.63" r="1.05" fill="#1f8a3c"/>
<circle cx="288.74" cy="236.46" r="1.05" fill="#1f8a3c"/>
<circle cx="356.44" cy="263.72" r="1.05" fill="#1f8a3c"/>
<circle cx="354.88" cy="332.26" r="1.05" fill="#1f8a3c"/>
<circle cx="253.47" cy="250.13" r="1.05" fill="#1f8a3c"/>
<circle cx="247.78" cy="261.3" r="1.05" fill="#1f8a3c"/>
<circle cx="316.47" cy="370.8" r="1.05" fill="#1f8a3c"/>
<circle cx="282.88" cy="242.52" r="1.05" fill="#1f8a3c"/>
<circle cx="231.03" cy="315.05" r="1.05" fill="#1f8a3c"/>
<circle cx="240.25" cy="272.22" r="1.05" fill="#1f8a3c"/>
<circle cx="241.85" cy="276.68" r="1.05" fill="#1f8a3c"/>
<circle cx="238.25" cy="347.75" r="1.05" fill="#1f8a3c"/>
<circle cx="353.75" cy="302.13" r="1.05" fill="#1f8a3c"/>
<circle cx="337.32" cy="263.92" r="1.05" fill="#1f8a3c"/>
<circle cx="249.16" cy="256.71" r="1.05" fill="#1f8a3c"/>
<circle cx="329.57" cy="363.65" r="1.05" fill="#1f8a3c"/>
<circle cx="299.89" cy="391.31" r="1.05" fill="#1f8a3c"/>
<circle cx="284.26" cy="370.01" r="1.05" fill="#1f8a3c"/>
<circle cx="361.92" cy="348.41" r="1.05" fill="#1f8a3c"/>
<circle cx="252.81" cy="251.75" r="1.05" fill="#1f8a3c"/>
<circle cx="228.7" cy="324.05" r="1.05" fill="#1f8a3c"/>
<circle cx="350.49" cy="291.23" r="1.05" fill="#1f8a3c"/>
<circle cx="369.97" cy="287.68" r="1.05" fill="#1f8a3c"/>
<circle cx="298.32" cy="239.51" r="1.05" fill="#1f8a3c"/>
<circle cx="231.05" cy="313.58" r="1.05" fill="#1f8a3c"/>
<circle cx="286.68" cy="238.41" r="1.05" fill="#1f8a3c"/>
<circle cx="225.79" cy="319.22" r="1.05" fill="#1f8a3c"/>
<circle cx="249.6" cy="346.01" r="1.05" fill="#1f8a3c"/>
<circle cx="254.34" cy="248.05" r="1.05" fill="#1f8a3c"/>
<circle cx="236.74" cy="338.35" r="1.05" fill="#1f8a3c"/>
<circle cx="329.18" cy="363.34" r="1.05" fill="#1f8a3c"/>
<circle cx="276.03" cy="227.35" r="1.05" fill="#1f8a3c"/>
<circle cx="351.46" cy="274.66" r="1.05" fill="#1f8a3c"/>
<circle cx="321.3" cy="245.24" r="1.05" fill="#1f8a3c"/>
<circle cx="231.31" cy="321.73" r="1.05" fill="#1f8a3c"/>
<circle cx="341.89" cy="271.85" r="1.05" fill="#1f8a3c"/>
<circle cx="321.31" cy="360.45" r="1.05" fill="#1f8a3c"/>
<circle cx="231.25" cy="306.88" r="1.05" fill="#1f8a3c"/>
<circle cx="233.54" cy="298.27" r="1.05" fill="#1f8a3c"/>
<circle cx="234.13" cy="327.46" r="1.05" fill="#1f8a3c"/>
<circle cx="297.39" cy="364.71" r="1.05" fill="#1f8a3c"/>
<circle cx="233.21" cy="292.23" r="1.05" fill="#1f8a3c"/>
<circle cx="297.53" cy="378.31" r="1.05" fill="#1f8a3c"/>
<circle cx="329" cy="246.89" r="1.05" fill="#1f8a3c"/>
<circle cx="333.95" cy="359.27" r="1.05" fill="#1f8a3c"/>
<circle cx="267.62" cy="365.26" r="1.05" fill="#1f8a3c"/>
<circle cx="357.08" cy="355.53" r="1.05" fill="#1f8a3c"/>
<circle cx="239.09" cy="344.85" r="1.05" fill="#1f8a3c"/>
<circle cx="251.47" cy="359.62" r="1.05" fill="#1f8a3c"/>
<circle cx="237.59" cy="269.54" r="1.05" fill="#1f8a3c"/>
<circle cx="366.37" cy="290.54" r="1.05" fill="#1f8a3c"/>
<circle cx="278.32" cy="368.58" r="1.05" fill="#1f8a3c"/>
<circle cx="325.33" cy="256.96" r="1.05" fill="#1f8a3c"/>
<circle cx="272.76" cy="368.9" r="1.05" fill="#1f8a3c"/>
<circle cx="355.26" cy="295.45" r="1.05" fill="#1f8a3c"/>
<circle cx="236.81" cy="276.49" r="1.05" fill="#1f8a3c"/>
<circle cx="322.11" cy="366.2" r="1.05" fill="#1f8a3c"/>
<circle cx="301.17" cy="369.95" r="1.05" fill="#1f8a3c"/>
<circle cx="232.8" cy="329.37" r="1.05" fill="#1f8a3c"/>
<circle cx="343.6" cy="279.38" r="1.05" fill="#1f8a3c"/>
<circle cx="347.63" cy="337.5" r="1.05" fill="#1f8a3c"/>
<circle cx="292.04" cy="373.14" r="1.05" fill="#1f8a3c"/>
<circle cx="291.08" cy="234.13" r="1.05" fill="#1f8a3c"/>
<circle cx="339.64" cy="287.95" r="1.05" fill="#1f8a3c"/>
<circle cx="225.24" cy="316.18" r="1.05" fill="#1f8a3c"/>
<circle cx="227.7" cy="286.14" r="1.05" fill="#1f8a3c"/>
<circle cx="350.85" cy="263.95" r="1.05" fill="#1f8a3c"/>
<circle cx="325.08" cy="368.55" r="1.05" fill="#1f8a3c"/>
<circle cx="349.6" cy="348.41" r="1.05" fill="#1f8a3c"/>
<circle cx="269.55" cy="371.51" r="1.05" fill="#1f8a3c"/>
<circle cx="352.93" cy="311.21" r="1.05" fill="#1f8a3c"/>
<circle cx="340.42" cy="348.94" r="1.05" fill="#1f8a3c"/>
<circle cx="243.68" cy="264.38" r="1.05" fill="#1f8a3c"/>
<circle cx="355.25" cy="291.32" r="1.05" fill="#1f8a3c"/>
<circle cx="230.22" cy="324.94" r="1.05" fill="#1f8a3c"/>
<circle cx="276.33" cy="225.17" r="1.05" fill="#1f8a3c"/>
<circle cx="268.48" cy="374.33" r="1.05" fill="#1f8a3c"/>
<circle cx="255.23" cy="382.05" r="1.05" fill="#1f8a3c"/>
<circle cx="301.28" cy="375.04" r="1.05" fill="#1f8a3c"/>
<circle cx="313.77" cy="253.49" r="1.05" fill="#1f8a3c"/>
<circle cx="347.71" cy="267.84" r="1.05" fill="#1f8a3c"/>
<circle cx="222.87" cy="338.05" r="1.05" fill="#1f8a3c"/>
<circle cx="247.69" cy="353.86" r="1.05" fill="#1f8a3c"/>
<circle cx="236.42" cy="343.58" r="1.05" fill="#1f8a3c"/>
<circle cx="256.58" cy="236.61" r="1.05" fill="#1f8a3c"/>
<circle cx="342.14" cy="267.66" r="1.05" fill="#1f8a3c"/>
<circle cx="339.43" cy="289.61" r="1.05" fill="#1f8a3c"/>
<circle cx="267.99" cy="362.8" r="1.05" fill="#1f8a3c"/>
<circle cx="282.79" cy="369.89" r="1.05" fill="#1f8a3c"/>
<circle cx="232.77" cy="301.82" r="1.05" fill="#1f8a3c"/>
<circle cx="322.2" cy="241.39" r="1.05" fill="#1f8a3c"/>
<circle cx="254.4" cy="365.44" r="1.05" fill="#1f8a3c"/>
<circle cx="228.36" cy="302.72" r="1.05" fill="#1f8a3c"/>
<circle cx="318.65" cy="262.6" r="1.05" fill="#1f8a3c"/>
<circle cx="324.2" cy="377.63" r="1.05" fill="#1f8a3c"/>
<circle cx="285.07" cy="238.91" r="1.05" fill="#1f8a3c"/>
<circle cx="301.86" cy="371.87" r="1.05" fill="#1f8a3c"/>
<circle cx="266.69" cy="363.35" r="1.05" fill="#1f8a3c"/>
<circle cx="343.24" cy="357.07" r="1.05" fill="#1f8a3c"/>
<line x1="293.54" y1="87.61" x2="293.6" y2="81.81" stroke="#999" stroke-width="1"/>
<text x="293.71" y="72.61" transform="rotate(-89.37 293.71 72.61)" class="tk" dy="1" text-anchor="start">5523</text>
<line x1="320.16" y1="89.5" x2="320.91" y2="83.75" stroke="#999" stroke-width="1"/>
<text x="322.11" y="74.63" transform="rotate(-82.51 322.11 74.63)" class="tk" dy="1" text-anchor="start">5525</text>
<line x1="346.35" y1="94.55" x2="347.79" y2="88.93" stroke="#999" stroke-width="1"/>
<text x="350.07" y="80.02" transform="rotate(-75.65 350.07 80.02)" class="tk" dy="1" text-anchor="start">5528</text>
<line x1="371.76" y1="102.7" x2="373.86" y2="97.29" stroke="#999" stroke-width="1"/>
<text x="377.19" y="88.71" transform="rotate(-68.8 377.19 88.71)" class="tk" dy="1" text-anchor="start">5530</text>
<line x1="396.01" y1="113.82" x2="398.74" y2="108.7" stroke="#999" stroke-width="1"/>
<text x="403.07" y="100.58" transform="rotate(-61.94 403.07 100.58)" class="tk" dy="1" text-anchor="start">5533</text>
<line x1="418.76" y1="127.76" x2="422.08" y2="123" stroke="#999" stroke-width="1"/>
<text x="427.35" y="115.46" transform="rotate(-55.08 427.35 115.46)" class="tk" dy="1" text-anchor="start">5535</text>
<line x1="439.69" y1="144.31" x2="443.55" y2="139.99" stroke="#999" stroke-width="1"/>
<text x="449.68" y="133.13" transform="rotate(-48.22 449.68 133.13)" class="tk" dy="1" text-anchor="start">5538</text>
<line x1="458.48" y1="163.25" x2="462.84" y2="159.42" stroke="#999" stroke-width="1"/>
<text x="469.74" y="153.34" transform="rotate(-41.36 469.74 153.34)" class="tk" dy="1" text-anchor="start">5540</text>
<line x1="474.88" y1="184.29" x2="479.66" y2="181.01" stroke="#999" stroke-width="1"/>
<text x="487.24" y="175.8" transform="rotate(-34.5 487.24 175.8)" class="tk" dy="1" text-anchor="start">5543</text>
<line x1="488.65" y1="207.15" x2="493.79" y2="204.46" stroke="#999" stroke-width="1"/>
<text x="501.94" y="200.19" transform="rotate(-27.64 501.94 200.19)" class="tk" dy="1" text-anchor="start">5545</text>
<line x1="499.59" y1="231.48" x2="505.02" y2="229.42" stroke="#999" stroke-width="1"/>
<text x="513.62" y="226.16" transform="rotate(-20.78 513.62 226.16)" class="tk" dy="1" text-anchor="start">5548</text>
<line x1="507.55" y1="256.95" x2="513.18" y2="255.55" stroke="#999" stroke-width="1"/>
<text x="522.11" y="253.34" transform="rotate(-13.92 522.11 253.34)" class="tk" dy="1" text-anchor="start">5550</text>
<line x1="512.41" y1="283.18" x2="518.16" y2="282.47" stroke="#999" stroke-width="1"/>
<text x="527.29" y="281.34" transform="rotate(-7.06 527.29 281.34)" class="tk" dy="1" text-anchor="start">5553</text>
<line x1="514.1" y1="309.81" x2="519.9" y2="309.79" stroke="#999" stroke-width="1"/>
<text x="529.1" y="309.76" transform="rotate(-0.2 529.1 309.76)" class="tk" dy="1" text-anchor="start">5555</text>
<line x1="512.6" y1="336.45" x2="518.36" y2="337.12" stroke="#999" stroke-width="1"/>
<text x="527.5" y="338.19" transform="rotate(6.66 527.5 338.19)" class="tk" dy="1" text-anchor="start">5558</text>
<line x1="507.92" y1="362.72" x2="513.56" y2="364.07" stroke="#999" stroke-width="1"/>
<text x="522.51" y="366.22" transform="rotate(13.52 522.51 366.22)" class="tk" dy="1" text-anchor="start">5560</text>
<line x1="500.15" y1="388.24" x2="505.58" y2="390.26" stroke="#999" stroke-width="1"/>
<text x="514.21" y="393.46" transform="rotate(20.37 514.21 393.46)" class="tk" dy="1" text-anchor="start">5563</text>
<line x1="489.38" y1="412.65" x2="494.54" y2="415.31" stroke="#999" stroke-width="1"/>
<text x="502.72" y="419.52" transform="rotate(27.23 502.72 419.52)" class="tk" dy="1" text-anchor="start">5565</text>
<line x1="475.77" y1="435.6" x2="480.57" y2="438.85" stroke="#999" stroke-width="1"/>
<text x="488.19" y="444.01" transform="rotate(34.09 488.19 444.01)" class="tk" dy="1" text-anchor="start">5568</text>
<line x1="446.83" y1="470.21" x2="450.88" y2="474.36" stroke="#999" stroke-width="1"/>
<text x="457.31" y="480.95" transform="rotate(45.7 457.31 480.95)" class="tk" dy="1" text-anchor="start">5570</text>
<line x1="426.66" y1="487.67" x2="430.18" y2="492.28" stroke="#999" stroke-width="1"/>
<text x="435.77" y="499.58" transform="rotate(52.56 435.77 499.58)" class="tk" dy="1" text-anchor="start">5573</text>
<line x1="404.54" y1="502.59" x2="407.49" y2="507.59" stroke="#999" stroke-width="1"/>
<text x="412.17" y="515.51" transform="rotate(59.42 412.17 515.51)" class="tk" dy="1" text-anchor="start">5575</text>
<line x1="380.8" y1="514.77" x2="383.13" y2="520.08" stroke="#999" stroke-width="1"/>
<text x="386.83" y="528.5" transform="rotate(66.28 386.83 528.5)" class="tk" dy="1" text-anchor="start">5578</text>
<line x1="355.77" y1="524.02" x2="357.45" y2="529.57" stroke="#999" stroke-width="1"/>
<text x="360.12" y="538.37" transform="rotate(73.14 360.12 538.37)" class="tk" dy="1" text-anchor="start">5580</text>
<line x1="329.82" y1="530.21" x2="330.83" y2="535.92" stroke="#999" stroke-width="1"/>
<text x="332.42" y="544.99" transform="rotate(80 332.42 544.99)" class="tk" dy="1" text-anchor="start">5583</text>
<line x1="303.31" y1="533.27" x2="303.63" y2="539.06" stroke="#999" stroke-width="1"/>
<text x="304.14" y="548.24" transform="rotate(86.86 304.14 548.24)" class="tk" dy="1" text-anchor="start">5585</text>
<line x1="276.63" y1="533.13" x2="276.26" y2="538.92" stroke="#999" stroke-width="1"/>
<text x="275.66" y="548.1" transform="rotate(-86.28 275.66 548.1)" class="tk" dy="1" text-anchor="end">5588</text>
<line x1="250.16" y1="529.81" x2="249.1" y2="535.51" stroke="#999" stroke-width="1"/>
<text x="247.41" y="544.55" transform="rotate(-79.42 247.41 544.55)" class="tk" dy="1" text-anchor="end">5590</text>
<line x1="224.27" y1="523.35" x2="222.53" y2="528.88" stroke="#999" stroke-width="1"/>
<text x="219.78" y="537.66" transform="rotate(-72.56 219.78 537.66)" class="tk" dy="1" text-anchor="end">5593</text>
<line x1="199.34" y1="513.85" x2="196.96" y2="519.13" stroke="#999" stroke-width="1"/>
<text x="193.17" y="527.52" transform="rotate(-65.7 193.17 527.52)" class="tk" dy="1" text-anchor="end">5595</text>
<line x1="175.72" y1="501.43" x2="172.72" y2="506.4" stroke="#999" stroke-width="1"/>
<text x="167.96" y="514.27" transform="rotate(-58.84 167.96 514.27)" class="tk" dy="1" text-anchor="end">5598</text>
<line x1="153.76" y1="486.29" x2="150.19" y2="490.86" stroke="#999" stroke-width="1"/>
<text x="144.52" y="498.11" transform="rotate(-51.98 144.52 498.11)" class="tk" dy="1" text-anchor="end">5600</text>
<line x1="133.76" y1="468.63" x2="129.67" y2="472.74" stroke="#999" stroke-width="1"/>
<text x="123.18" y="479.26" transform="rotate(-45.13 123.18 479.26)" class="tk" dy="1" text-anchor="end">5603</text>
<line x1="116.01" y1="448.71" x2="111.46" y2="452.3" stroke="#999" stroke-width="1"/>
<text x="104.24" y="458" transform="rotate(-38.27 104.24 458)" class="tk" dy="1" text-anchor="end">5605</text>
<line x1="100.77" y1="426.81" x2="95.82" y2="429.83" stroke="#999" stroke-width="1"/>
<text x="87.97" y="434.62" transform="rotate(-31.41 87.97 434.62)" class="tk" dy="1" text-anchor="end">5608</text>
<line x1="88.26" y1="403.24" x2="82.98" y2="405.65" stroke="#999" stroke-width="1"/>
<text x="74.61" y="409.48" transform="rotate(-24.55 74.61 409.48)" class="tk" dy="1" text-anchor="end">5610</text>
<line x1="71.25" y1="347.97" x2="65.53" y2="348.94" stroke="#999" stroke-width="1"/>
<text x="56.47" y="350.48" transform="rotate(-9.65 56.47 350.48)" class="tk" dy="1" text-anchor="end">5485</text>
<line x1="68.36" y1="321.44" x2="62.57" y2="321.72" stroke="#999" stroke-width="1"/>
<text x="53.38" y="322.17" transform="rotate(-2.79 53.38 322.17)" class="tk" dy="1" text-anchor="end">5488</text>
<line x1="68.66" y1="294.76" x2="62.88" y2="294.35" stroke="#999" stroke-width="1"/>
<text x="53.7" y="293.7" transform="rotate(4.07 53.7 293.7)" class="tk" dy="1" text-anchor="end">5490</text>
<line x1="72.15" y1="268.31" x2="66.45" y2="267.21" stroke="#999" stroke-width="1"/>
<text x="57.42" y="265.47" transform="rotate(10.93 57.42 265.47)" class="tk" dy="1" text-anchor="end">5493</text>
<line x1="78.76" y1="242.46" x2="73.24" y2="240.69" stroke="#999" stroke-width="1"/>
<text x="64.48" y="237.88" transform="rotate(17.79 64.48 237.88)" class="tk" dy="1" text-anchor="end">5495</text>
<line x1="88.42" y1="217.59" x2="83.15" y2="215.17" stroke="#999" stroke-width="1"/>
<text x="74.79" y="211.34" transform="rotate(24.65 74.79 211.34)" class="tk" dy="1" text-anchor="end">5498</text>
<line x1="100.98" y1="194.05" x2="96.04" y2="191.02" stroke="#999" stroke-width="1"/>
<text x="88.19" y="186.21" transform="rotate(31.51 88.19 186.21)" class="tk" dy="1" text-anchor="end">5500</text>
<line x1="116.26" y1="172.18" x2="111.71" y2="168.58" stroke="#999" stroke-width="1"/>
<text x="104.5" y="162.87" transform="rotate(38.37 104.5 162.87)" class="tk" dy="1" text-anchor="end">5503</text>
<line x1="134.04" y1="152.29" x2="129.96" y2="148.17" stroke="#999" stroke-width="1"/>
<text x="123.48" y="141.64" transform="rotate(45.23 123.48 141.64)" class="tk" dy="1" text-anchor="end">5505</text>
<line x1="154.07" y1="134.67" x2="150.51" y2="130.09" stroke="#999" stroke-width="1"/>
<text x="144.86" y="122.83" transform="rotate(52.09 144.86 122.83)" class="tk" dy="1" text-anchor="end">5508</text>
<line x1="176.07" y1="119.56" x2="173.08" y2="114.59" stroke="#999" stroke-width="1"/>
<text x="168.33" y="106.71" transform="rotate(58.95 168.33 106.71)" class="tk" dy="1" text-anchor="end">5510</text>
<line x1="199.71" y1="107.19" x2="197.33" y2="101.9" stroke="#999" stroke-width="1"/>
<text x="193.56" y="93.51" transform="rotate(65.81 193.56 93.51)" class="tk" dy="1" text-anchor="end">5513</text>
<line x1="224.65" y1="97.73" x2="222.93" y2="92.19" stroke="#999" stroke-width="1"/>
<text x="220.18" y="83.41" transform="rotate(72.66 220.18 83.41)" class="tk" dy="1" text-anchor="end">5515</text>
<line x1="250.55" y1="91.32" x2="249.5" y2="85.61" stroke="#999" stroke-width="1"/>
<text x="247.83" y="76.57" transform="rotate(79.52 247.83 76.57)" class="tk" dy="1" text-anchor="end">5518</text>
<text x="291.1" y="96.1" transform="rotate(-90 291.1 96.1)" class="bl" text-anchor="start">55222714</text>
<text x="467.64" y="432.43" transform="rotate(34.61 467.64 432.43)" class="bl" text-anchor="start">55676884</text>
<text x="456.35" y="447.36" transform="rotate(39.61 456.35 447.36)" class="bl" text-anchor="start">55677787</text>
<text x="89.36" y="383.49" transform="rotate(-19.87 89.36 383.49)" class="bl" text-anchor="end">56117062</text>
<text x="83.78" y="365.63" transform="rotate(-14.87 83.78 365.63)" class="bl" text-anchor="end">54830975</text>
<text x="272.41" y="96.92" transform="rotate(85 272.41 96.92)" class="bl" text-anchor="end">55194959</text>
<text x="199.25" y="56.17" transform="rotate(70.15 199.25 56.17)" class="gn" text-anchor="end" textLength="43.63" lengthAdjust="spacingAndGlyphs">EGFR</text>
<text x="356.54" y="48.14" transform="rotate(-76 356.54 48.14)" class="gn" text-anchor="start" textLength="43.63" lengthAdjust="spacingAndGlyphs">EGFR</text>
<text x="539.73" y="204.04" transform="rotate(-23.2 539.73 204.04)" class="gn" text-anchor="start" textLength="63.64" lengthAdjust="spacingAndGlyphs">LANCL2</text>
<text x="560.12" y="338.87" transform="rotate(6 560.12 338.87)" class="gn" text-anchor="start" textLength="53.72" lengthAdjust="spacingAndGlyphs">VOPP1</text>
<text x="411.37" y="552.89" transform="rotate(63.6 411.37 552.89)" class="gn" text-anchor="start" textLength="60.53" lengthAdjust="spacingAndGlyphs">FKBP9L</text>
<text x="247.39" y="577.54" transform="rotate(-80.7 247.39 577.54)" class="gn" text-anchor="end" textLength="61.17" lengthAdjust="spacingAndGlyphs">SEPT14</text>
<text x="144.17" y="537.72" transform="rotate(-57.1 144.17 537.72)" class="gn" text-anchor="end" textLength="63.85" lengthAdjust="spacingAndGlyphs">ZNF713</text>
<text x="102.52" y="504.52" transform="rotate(-45.8 102.52 504.52)" class="gn" text-anchor="end" textLength="66.31" lengthAdjust="spacingAndGlyphs">MRPS17</text>
<text x="84.8" y="485.56" transform="rotate(-40.3 84.8 485.56)" class="gn" text-anchor="end" textLength="45.31" lengthAdjust="spacingAndGlyphs">GBAS</text>
<text x="46.55" y="426.2" transform="rotate(-25.3 46.55 426.2)" class="gn" text-anchor="end" textLength="42.26" lengthAdjust="spacingAndGlyphs">PSPH</text>
<text x="450.48" y="226.94" transform="rotate(-27.69 450.48 226.94)" class="chr" text-anchor="middle">chr7</text>
<text x="260.24" y="487.93" transform="rotate(-80.13 260.24 487.93)" class="chr" text-anchor="middle">chr7</text>
<text x="143.77" y="207.18" transform="rotate(35.07 143.77 207.18)" class="chr" text-anchor="middle">chr7</text>
<text x="291" y="107.2" class="sc" text-anchor="end">50</text>
<text x="291" y="127.7" class="sc" text-anchor="end">25</text>
<text x="291" y="146.5" class="sc" text-anchor="end">0</text>
<text x="291" y="165.2" class="sc" text-anchor="end">1000.000</text>
<text x="291" y="172.3" class="sc" text-anchor="end">100.000</text>
<text x="291" y="179.4" class="sc" text-anchor="end">10.000</text>
<text x="291" y="186.6" class="sc" text-anchor="end">1.000</text>
<text x="291" y="193.4" class="sc" text-anchor="end">0.100</text>
<text x="291" y="200.1" class="sc" text-anchor="end">0.010</text>
<text x="291" y="206.7" class="sc" text-anchor="end">0.001</text>
<text x="291" y="230.3" class="sc" text-anchor="end">1000.000</text>
<text x="291" y="248" class="sc" text-anchor="end">100.000</text>
<text x="291" y="265.7" class="sc" text-anchor="end">10.000</text>
<text x="291" y="282.8" class="sc" text-anchor="end">1.000</text>
<line x1="750" y1="83" x2="345" y2="83" stroke="#245b63" stroke-width="2.7"/>
<path d="M331.5 83.3 L347 75.8 L347 91 Z" fill="#245b63"/>
<line x1="750" y1="251" x2="345" y2="251" stroke="#9cc5bf" stroke-width="2.7"/>
<path d="M331.5 251 L347 243.5 L347 258.7 Z" fill="#9cc5bf"/>
<line x1="750" y1="418.5" x2="395" y2="418.5" stroke="#e8302e" stroke-width="2.7"/>
<path d="M381.5 418.5 L397 411 L397 426.2 Z" fill="#e8302e"/>
</svg>
<div class="box" style="left:749px;top:28.5px;width:292px;height:109px;border-color:#245b63;color:#245b63;">Unique gene<br>sequence (DNASeq)</div>
<div class="box" style="left:749px;top:197px;width:292px;height:108.5px;border-color:#9cc5bf;color:#9cc5bf;">Open chromatin<br>(ATACSeq)</div>
<div class="box" style="left:749px;top:364px;width:292px;height:108.5px;border-color:#e8302e;color:#e8302e;">High transcriptional<br>activity (RNASeq)</div>
<div class="bottom">Large size: 2 - 5 Mbp<br>Active gene expression</div>
</body></html>
